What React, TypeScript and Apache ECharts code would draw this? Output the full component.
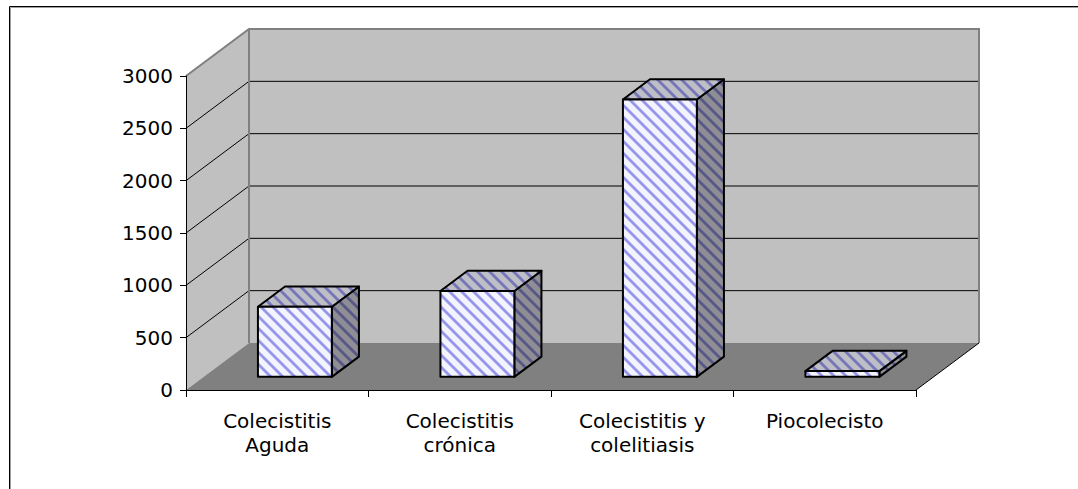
import React, { useEffect, useRef } from 'react';
import * as echarts from 'echarts';

// ---- data ----
const categories = ['Colecistitis\nAguda', 'Colecistitis\ncrónica', 'Colecistitis y\ncolelitiasis', 'Piocolecisto'];
const values = [670, 820, 2650, 55];
const yMin = 0;
const yMax = 3000;
const yStep = 500;
const yTicks = [0, 500, 1000, 1500, 2000, 2500, 3000];

// ---- 3D geometry (styling) ----
const DEPTH_X = 63;
const DEPTH_Y = -47;
const BAR_FRONT = 0.28;
const BAR_BACK = 0.71;
const BAR_WIDTH_RATIO = 0.405;

function makePattern() {
  const N = 12;
  const c = document.createElement('canvas');
  c.width = N;
  c.height = N;
  const ctx = c.getContext('2d')!;
  const img = ctx.createImageData(N, N);
  const bg = [244, 244, 255];
  const st = [150, 150, 235];
  const weights = [0.5, 1, 1, 1, 0.5];
  for (let y = 0; y < N; y++) {
    for (let x = 0; x < N; x++) {
      const d = (((x - y) % N) + N) % N;
      const w = d < weights.length ? weights[d] : 0;
      const i = (y * N + x) * 4;
      img.data[i] = Math.round(bg[0] * (1 - w) + st[0] * w);
      img.data[i + 1] = Math.round(bg[1] * (1 - w) + st[1] * w);
      img.data[i + 2] = Math.round(bg[2] * (1 - w) + st[2] * w);
      img.data[i + 3] = 255;
    }
  }
  ctx.putImageData(img, 0, 0);
  return { image: c, repeat: 'repeat', imageWidth: N, imageHeight: N };
}

export default function App() {
  const ref = useRef<HTMLDivElement>(null);
  useEffect(() => {
    const chart = echarts.init(ref.current!, null, { renderer: 'svg' });
    const pattern: any = makePattern();
    const font = 'DejaVu Sans';

    const wallsRender = (params: any, api: any) => {
      const bw = api.size([1, 0])[0];
      const c0 = api.coord([0, yMin]);
      const xL = c0[0] - bw / 2;
      const xR = api.coord([categories.length - 1, yMin])[0] + bw / 2;
      const yB = c0[1];
      const yT = api.coord([0, yMax])[1];
      const dx = DEPTH_X;
      const dy = DEPTH_Y;
      const children: any[] = [];
      children.push({
        type: 'polygon',
        shape: { points: [[xL + dx, yT + dy], [xR + dx, yT + dy], [xR + dx, yB + dy], [xL + dx, yB + dy]] },
        style: { fill: '#C0C0C0' },
      });
      children.push({
        type: 'polygon',
        shape: { points: [[xL, yT], [xL + dx, yT + dy], [xL + dx, yB + dy], [xL, yB]] },
        style: { fill: '#C0C0C0' },
      });
      children.push({
        type: 'polygon',
        shape: { points: [[xL, yB], [xR, yB], [xR + dx, yB + dy], [xL + dx, yB + dy]] },
        style: { fill: '#808080' },
      });
      yTicks.forEach((v) => {
        if (v <= yMin || v >= yMax) return;
        const y = api.coord([0, v])[1];
        children.push({
          type: 'line',
          shape: { x1: xL + dx, y1: y + dy, x2: xR + dx, y2: y + dy },
          style: { stroke: '#000', lineWidth: 1 },
        });
        children.push({
          type: 'line',
          shape: { x1: xL, y1: y, x2: xL + dx, y2: y + dy },
          style: { stroke: '#000', lineWidth: 1 },
        });
      });
      children.push({
        type: 'polyline',
        shape: { points: [[xL, yT], [xL + dx, yT + dy], [xR + dx, yT + dy], [xR + dx, yB + dy]] },
        style: { stroke: '#808080', lineWidth: 2, fill: 'none' },
      });
      children.push({
        type: 'line',
        shape: { x1: xL + dx, y1: yT + dy, x2: xL + dx, y2: yB + dy },
        style: { stroke: '#808080', lineWidth: 2 },
      });
      children.push({
        type: 'line',
        shape: { x1: xR, y1: yB, x2: xR + dx, y2: yB + dy },
        style: { stroke: '#000', lineWidth: 1 },
      });
      return { type: 'group', children };
    };

    const barRender = (params: any, api: any) => {
      const ci = api.value(0);
      const v = api.value(1);
      const bw = api.size([1, 0])[0];
      const base = api.coord([ci, yMin]);
      const top = api.coord([ci, v]);
      const w = bw * BAR_WIDTH_RATIO;
      const fx = DEPTH_X * BAR_FRONT;
      const fy = DEPTH_Y * BAR_FRONT;
      const ddx = DEPTH_X * (BAR_BACK - BAR_FRONT);
      const ddy = DEPTH_Y * (BAR_BACK - BAR_FRONT);
      const x0 = base[0] - w / 2 + fx;
      const x1 = base[0] + w / 2 + fx;
      const yb = base[1] + fy;
      const yt = top[1] + fy;
      const topPts = [[x0, yt], [x0 + ddx, yt + ddy], [x1 + ddx, yt + ddy], [x1, yt]];
      const sidePts = [[x1, yt], [x1 + ddx, yt + ddy], [x1 + ddx, yb + ddy], [x1, yb]];
      const frontPts = [[x0, yt], [x1, yt], [x1, yb], [x0, yb]];
      const face = (pts: number[][], shade: number) => [
        { type: 'polygon', shape: { points: pts }, style: { fill: pattern } },
        { type: 'polygon', shape: { points: pts }, style: { fill: `rgba(0,0,0,${shade})` } },
        { type: 'polygon', shape: { points: pts }, style: { fill: 'none', stroke: '#000', lineWidth: 2, lineJoin: 'round' } },
      ];
      return {
        type: 'group',
        children: [...face(sidePts, 0.42), ...face(topPts, 0.22), ...face(frontPts, 0)],
      };
    };

    chart.setOption({
      animation: false,
      backgroundColor: '#fff',
      grid: { left: 186, right: 162, top: 76, bottom: 99 },
      xAxis: {
        type: 'category',
        data: categories,
        z: 2,
        axisLine: { show: true, lineStyle: { color: '#000', width: 1 } },
        axisTick: { show: true, alignWithLabel: false, length: 7, lineStyle: { color: '#000' } },
        axisLabel: { interval: 0, color: '#000', fontSize: 20, lineHeight: 24, fontFamily: font, margin: 19 },
        splitLine: { show: false },
      },
      yAxis: {
        type: 'value',
        min: yMin,
        max: yMax,
        interval: yStep,
        z: 2,
        axisLine: { show: true, lineStyle: { color: '#000', width: 1 } },
        axisTick: { show: true, inside: false, length: 6, lineStyle: { color: '#000' } },
        axisLabel: { color: '#000', fontSize: 20, fontFamily: font, margin: 13, formatter: (v: number) => String(v) },
        splitLine: { show: false },
      },
      graphic: [
        { type: 'rect', shape: { x: 10.5, y: 7.5, width: 1200, height: 600 }, style: { fill: 'none', stroke: '#a0a0a0', lineWidth: 1 }, z: 100 },
        { type: 'rect', shape: { x: 9.5, y: 6.5, width: 1200, height: 600 }, style: { fill: 'none', stroke: '#000', lineWidth: 1 }, z: 101 },
      ],
      series: [
        { type: 'custom', z: 1, clip: false, silent: true, renderItem: wallsRender, data: [[0, 0]] },
        {
          type: 'custom',
          z: 3,
          clip: false,
          renderItem: barRender,
          data: values.map((v, i) => [i, v]),
        },
      ],
    });
    return () => chart.dispose();
  }, []);
  return (
    <div
      ref={ref}
      style={{ position: 'absolute', left: 0, top: 0, width: 1078, height: 489, background: '#fff' }}
    />
  );
}
